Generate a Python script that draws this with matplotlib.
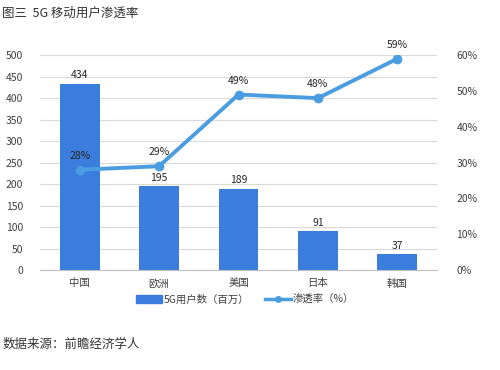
import matplotlib
matplotlib.use("Agg")
import matplotlib.pyplot as plt
from matplotlib.ticker import FuncFormatter

plt.rcParams['font.family'] = ['Noto Sans CJK SC', 'DejaVu Sans']

categories = ['中国', '欧洲', '美国', '日本', '韩国']
users = [434, 195, 189, 91, 37]
penetration = [28, 29, 49, 48, 59]

bar_color = '#3b7ddd'
line_color = '#4a9de0'
text_color = '#404040'
label_color = '#262626'

fig = plt.figure(figsize=(5, 3.7), dpi=100)
ax = fig.add_axes([0.08, 0.27, 0.794, 0.581])
ax2 = ax.twinx()

x = range(len(categories))
ax.bar(x, users, width=0.5, color=bar_color, zorder=2)
for i, v in enumerate(users):
    ax.text(i, v + 8, str(v), ha='center', va='bottom', fontsize=7.5, color=label_color)

ax2.plot(x, penetration, color=line_color, linewidth=2.8, marker='o', markersize=6, zorder=3)
for i, v in enumerate(penetration):
    ax2.text(i, v + 2.5, f'{v}%', ha='center', va='bottom', fontsize=7.5, color=label_color)

ax.set_ylim(0, 500)
ax.set_yticks(range(0, 501, 50))
ax2.set_ylim(0, 60)
ax2.set_yticks(range(0, 61, 10))
ax2.yaxis.set_major_formatter(FuncFormatter(lambda v, p: f'{int(v)}%'))
ax.set_xlim(-0.5, len(categories) - 0.5)
ax.set_xticks(list(x))
ax.set_xticklabels(categories)

ax.grid(axis='y', color='#d9d9d9', linewidth=0.8, zorder=0)
ax.set_axisbelow(True)
for a in (ax, ax2):
    for s in ['top', 'left', 'right']:
        a.spines[s].set_visible(False)
    a.tick_params(length=0, labelsize=7.5, labelcolor=text_color)
ax2.spines['bottom'].set_visible(False)
ax.spines['bottom'].set_color('#bfbfbf')
ax.tick_params(axis='y', pad=12)
ax2.tick_params(axis='y', pad=14)
ax.tick_params(axis='x', pad=6)

handles = [plt.Rectangle((0, 0), 1, 1, color=bar_color),
           plt.Line2D([0], [0], color=line_color, linewidth=2.5, marker='o', markersize=4)]
fig.legend(handles, ['5G用户数（百万）', '渗透率（%）'], loc='center', bbox_to_anchor=(0.49, 0.19),
           ncol=2, frameon=False, fontsize=7.5, handlelength=2.5, handletextpad=0.2, columnspacing=1.5,
           labelcolor=text_color)

fig.text(0.005, 0.965, '图三  5G 移动用户渗透率', fontsize=9, color='#333333', va='center')
fig.text(0.005, 0.068, '数据来源：前瞻经济学人', fontsize=9, color='#333333', va='center')

fig.savefig('out.png', dpi=100)
